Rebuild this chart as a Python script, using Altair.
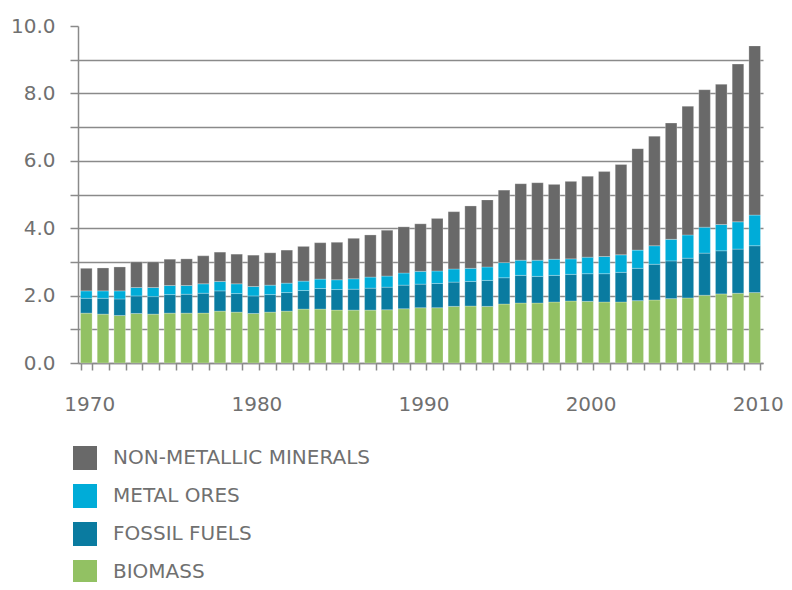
import altair as alt
import pandas as pd

years = list(range(1970, 2011))
biomass = [1.48, 1.45, 1.41, 1.47, 1.45, 1.48, 1.48, 1.48, 1.54, 1.51,
           1.47, 1.51, 1.54, 1.60, 1.60, 1.57, 1.57, 1.57, 1.58, 1.61,
           1.64, 1.64, 1.68, 1.69, 1.68, 1.75, 1.78, 1.78, 1.81, 1.84,
           1.83, 1.81, 1.81, 1.85, 1.87, 1.91, 1.93, 2.01, 2.05, 2.07, 2.09]
fossil = [0.44, 0.47, 0.49, 0.52, 0.52, 0.55, 0.56, 0.59, 0.60, 0.55,
          0.52, 0.52, 0.55, 0.55, 0.61, 0.61, 0.62, 0.65, 0.67, 0.70,
          0.70, 0.72, 0.72, 0.73, 0.77, 0.78, 0.82, 0.79, 0.79, 0.79,
          0.82, 0.84, 0.88, 0.96, 1.06, 1.12, 1.18, 1.25, 1.28, 1.31, 1.39]
metal = [0.22, 0.22, 0.24, 0.25, 0.27, 0.27, 0.26, 0.28, 0.28, 0.29,
         0.28, 0.28, 0.28, 0.28, 0.28, 0.29, 0.31, 0.33, 0.33, 0.36,
         0.38, 0.37, 0.39, 0.39, 0.40, 0.45, 0.45, 0.48, 0.48, 0.46,
         0.49, 0.51, 0.52, 0.54, 0.55, 0.64, 0.69, 0.77, 0.78, 0.81, 0.91]
nonmetallic = [0.67, 0.68, 0.71, 0.76, 0.76, 0.78, 0.79, 0.83, 0.87, 0.88,
               0.93, 0.96, 0.98, 1.03, 1.08, 1.11, 1.20, 1.25, 1.36, 1.37,
               1.41, 1.56, 1.70, 1.85, 1.99, 2.15, 2.27, 2.30, 2.22, 2.30,
               2.40, 2.52, 2.68, 3.01, 3.25, 3.45, 3.82, 4.08, 4.16, 4.68, 5.02]

categories = ["NON-METALLIC MINERALS", "METAL ORES", "FOSSIL FUELS", "BIOMASS"]
colors = ["#696969", "#00ACD8", "#0A7BA0", "#92C163"]
series = {"BIOMASS": biomass, "FOSSIL FUELS": fossil,
          "METAL ORES": metal, "NON-METALLIC MINERALS": nonmetallic}
stack_rank = {"BIOMASS": 0, "FOSSIL FUELS": 1, "METAL ORES": 2, "NON-METALLIC MINERALS": 3}

rows = []
for name, vals in series.items():
    for y, v in zip(years, vals):
        rows.append({"year": y, "type": name, "value": v, "rank": stack_rank[name]})
df = pd.DataFrame(rows)

GRAY = "#8a8a8a"
TEXT = "#707070"
FONT = "DejaVu Sans"

chart = alt.Chart(df).mark_bar(
    stroke="#ffffff", strokeWidth=0.5, strokeOpacity=0.5
).encode(
    x=alt.X("year:O", title=None,
            scale=alt.Scale(paddingInner=0.306, paddingOuter=0.15),
            axis=alt.Axis(labelAngle=0, tickBand="extent", tickSize=7,
                          tickColor=GRAY, tickWidth=1.5, domainColor=GRAY,
                          domainWidth=1.5, labelColor=TEXT, labelFontSize=20,
                          labelFont=FONT, labelPadding=24, labelOffset=3,
                          labelOverlap=False, grid=False,
                          labelExpr="datum.value % 10 == 0 ? datum.label : ''")),
    y=alt.Y("value:Q", title=None, stack="zero",
            scale=alt.Scale(domain=[0, 10], nice=False),
            axis=alt.Axis(values=list(range(0, 11)), tickSize=8, tickColor=GRAY,
                          tickWidth=1.5, domainColor=GRAY, domainWidth=1.5,
                          gridColor=GRAY, gridWidth=1.5,
                          gridOpacity=alt.ExprRef(expr="datum.value >= 10 ? 0 : 1"),
                          labelColor=TEXT, labelFontSize=20, labelFont=FONT,
                          labelPadding=15,
                          labelExpr="datum.value % 2 == 0 ? format(datum.value, '.1f') : ''")),
    color=alt.Color("type:N", title=None,
                    scale=alt.Scale(domain=categories, range=colors),
                    legend=alt.Legend(orient="none", legendX=-5, legendY=420,
                                      symbolType="square", symbolSize=576,
                                      symbolStrokeWidth=0, symbolOpacity=1,
                                      labelFontSize=20, labelFont=FONT,
                                      labelColor=TEXT, labelOffset=16,
                                      rowPadding=14, padding=0, labelLimit=500)),
    order=alt.Order("rank:Q", sort="ascending"),
).properties(
    width=685, height=337,
    autosize=alt.AutoSizeParams(type="none"),
    padding={"left": 70, "top": 18, "right": 21, "bottom": 219},
).configure_view(stroke=None)

chart.save("out.html", embed_options={"renderer": "svg", "actions": False})
